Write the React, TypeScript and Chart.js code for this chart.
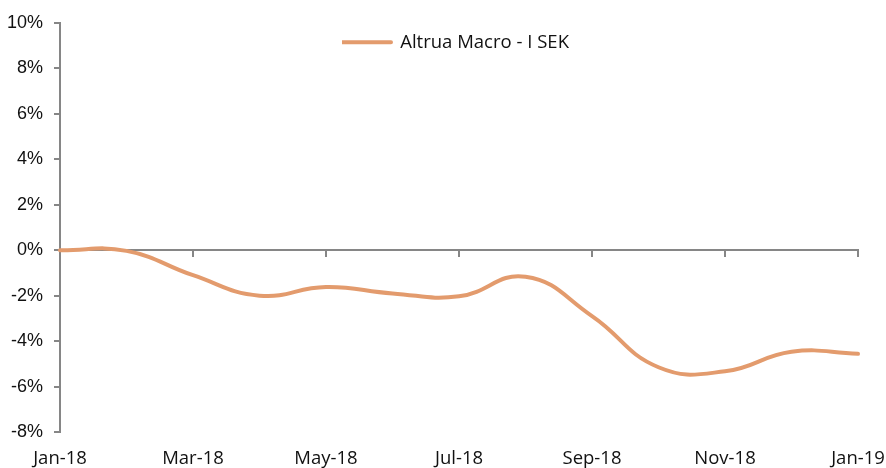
import React, { useEffect, useRef } from 'react';
import { Chart, registerables } from 'chart.js';

Chart.register(...registerables);

const months = [
  'Jan-18', 'Feb-18', 'Mar-18', 'Apr-18', 'May-18', 'Jun-18', 'Jul-18',
  'Aug-18', 'Sep-18', 'Oct-18', 'Nov-18', 'Dec-18', 'Jan-19',
];
const altruaMacroSEK = [0, -0.03, -1.1, -2.0, -1.62, -1.9, -2.03, -1.17, -2.9, -5.15, -5.33, -4.47, -4.56];
const seriesLabel = 'Altrua Macro - I SEK';

const LINE = 'rgb(227,155,109)';
const AXIS = '#868686';
const TEXT = '#111111';

const moveLegend = {
  id: 'moveLegend',
  afterLayout(chart: any) {
    const lg = chart.legend;
    if (!lg) return;
    const w = lg.width;
    const h = lg.height;
    lg.left = 342;
    lg.top = 33;
    lg.right = lg.left + w;
    lg.bottom = lg.top + h;
  },
};

export default function App() {
  const ref = useRef<HTMLCanvasElement>(null);
  useEffect(() => {
    document.body.style.margin = '0';
    const chart = new Chart(ref.current as HTMLCanvasElement, {
      type: 'line',
      data: {
        labels: months,
        datasets: [
          {
            label: seriesLabel,
            data: altruaMacroSEK,
            borderColor: LINE,
            backgroundColor: LINE,
            borderWidth: 4,
            pointRadius: 0,
            tension: 0.45,
            borderCapStyle: 'round',
            borderJoinStyle: 'round',
            xAxisID: 'x',
            yAxisID: 'y',
          },
        ],
      },
      options: {
        animation: false,
        responsive: false,
        maintainAspectRatio: false,
        layout: { padding: { top: 23, right: 28, left: 0, bottom: 0 } },
        plugins: {
          legend: {
            position: 'chartArea' as any,
            align: 'start',
            labels: {
              boxWidth: 49,
              boxHeight: 0,
              padding: 0,
              color: TEXT,
              font: { family: 'Open Sans', size: 18.5 },
            },
          },
          tooltip: { enabled: false },
        },
        scales: {
          x: {
            type: 'category',
            position: 'bottom',
            grid: { display: false, drawTicks: false },
            border: { display: false },
            ticks: {
              autoSkip: false,
              maxRotation: 0,
              padding: 16,
              color: TEXT,
              font: { family: 'Open Sans', size: 18.5 },
              callback: (_v: any, i: number) => (i % 2 === 0 ? months[i] : ''),
            },
            afterFit: (s: any) => {
              s.height = 36;
              s.paddingLeft = 0;
              s.paddingRight = 0;
            },
          },
          x2: {
            type: 'category',
            position: { y: 0 } as any,
            grid: {
              drawOnChartArea: false,
              tickLength: 6,
              lineWidth: 2,
              color: (ctx: any) => (ctx.index % 2 === 0 ? AXIS : 'rgba(0,0,0,0)'),
            },
            border: { display: true, color: AXIS, width: 2 },
            ticks: { display: false, autoSkip: false },
          },
          y: {
            min: -8,
            max: 10,
            ticks: {
              stepSize: 2,
              padding: 11,
              color: TEXT,
              font: { family: 'Liberation Sans', size: 18 },
              callback: (v: any) => v + '%',
            },
            grid: { drawOnChartArea: false, tickLength: 6, color: AXIS, lineWidth: 2 },
            border: { color: AXIS, width: 2 },
            afterFit: (s: any) => {
              s.width = 60;
              s.paddingTop = 0;
              s.paddingBottom = 0;
            },
          },
        },
      },
      plugins: [moveLegend],
    } as any);
    return () => chart.destroy();
  }, []);
  return <canvas ref={ref} width={886} height={468} style={{ display: 'block' }} />;
}
